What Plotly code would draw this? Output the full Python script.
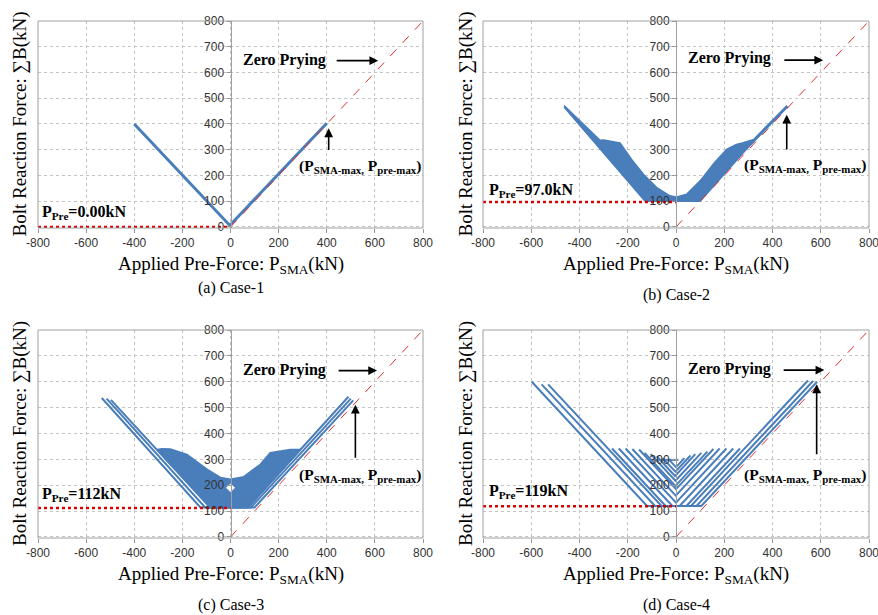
import plotly.graph_objects as go

# ---------------- data ----------------
P_PRE = [0.00, 97.0, 112, 119]
P_PRE_LABELS = ["0.00kN", "97.0kN", "112kN", "119kN"]
CAPTIONS = ["(a) Case-1", "(b) Case-2", "(c) Case-3", "(d) Case-4"]
X_TICKS = [-800, -600, -400, -200, 0, 200, 400, 600, 800]
X_TICK_TEXT = ["-800", "-600", "-400", "-200", "0", "200", "400", "600", "800"]
Y_TICKS = [0, 100, 200, 300, 400, 500, 600, 700, 800]
ZERO_PRYING_X = [0, 800]
ZERO_PRYING_Y = [0, 800]

# Case-1: single V curve
CASE1_X = [[-400, -3, 400]]
CASE1_Y = [[400, 6, 403]]

# Case-2: dense band (outline of the overlapping cycles)
CASE2_BAND_X = [-464, -315, -300, -273, -232, -184, -135, -80, -25, 0, 44, 100, 160, 210,
                250, 279, 307, 322, 458, 462, 290, 100, -128, -464]
CASE2_BAND_Y = [472, 337, 338, 334, 326, 262, 205, 153, 121, 116, 127, 179, 250, 301,
                320, 327, 337, 340, 470, 466, 300, 100, 100, 466]

# Case-3: band + three long cycles
CASE3_BAND_X = [-305, -285, -250, -181, -98, -42, 0, 55, 124, 165, 248, 292, 75, -83, -305]
CASE3_BAND_Y = [338, 341, 340, 319, 262, 230, 223, 233, 281, 326, 338, 338, 114, 114, 338]
CASE3_X = [[-535, -125, 100, 510],
           [-515, -105, 85, 500],
           [-497, -85, 72, 490]]
CASE3_Y = [[537, 114, 114, 528],
           [535, 114, 114, 535],
           [530, 114, 114, 542]]
CASE3_HOLE_X = [-18, 0, 18, 0, -18]
CASE3_HOLE_Y = [190, 205, 190, 175, 190]

# Case-4: individual cycles
CASE4_X = [[-598, -120, 105, 585],
           [-557, -87, 85, 568],
           [-530, -60, 62, 547],
           [-265, -43, 43, 265],
           [-237, -15, 15, 237],
           [-209, 0, 209],
           [-181, -1, 181],
           [-153, 0, 155],
           [-130, -2.5, 130],
           [-105, -2.5, 105],
           [-80, -4, 80],
           [-55, -2.5, 60],
           [-30, 0, 35],
           [-80, 10]]
CASE4_Y = [[600, 120, 120, 600],
           [590, 120, 120, 603],
           [590, 120, 120, 605],
           [342, 120, 120, 342],
           [342, 120, 120, 342],
           [342, 133, 342],
           [340, 160, 342],
           [338, 185, 340],
           [325, 197.5, 330],
           [320, 217.5, 325],
           [312, 236, 320],
           [305, 252.5, 315],
           [300, 270, 305],
           [298, 298]]

# annotation positions (data coordinates, per panel)
ZP_TEXT_X = [224, 220, 224, 220]
ZP_TEXT_Y = [650, 655, 646, 648]
ZP_ARROW_X0 = [435, 443, 443, 440]
ZP_ARROW_X1 = [614, 610, 609, 615]
ZP_ARROW_Y = [646, 648, 643, 645]
PMAX_TEXT_X = [537, 535, 539, 535]
PMAX_TEXT_Y = [235, 237, 238, 239]
PMAX_ARROW_X = [408, 459, 519, 583]
PMAX_ARROW_Y0 = [293, 295, 300, 314]
PMAX_ARROW_Y1 = [383, 436, 511, 590]
PPRE_TEXT_X = [-790, -784, -790, -785]
PPRE_TEXT_Y = [58, 140, 165, 175]

# ---------------- layout geometry ----------------
W, H = 878, 615
BLUE = "#4a7ebb"
RED = "#dd0000"
SERIF = "Liberation Serif"
SANS = "Liberation Sans"

# plot-area pixel boxes: (left, right, top, bottom)
BOXES = [(38, 423, 21, 228), (483, 869, 21, 228), (38, 423, 330, 538), (483, 869, 330, 538)]
XTITLE_Y = [265, 265, 575, 575]
CAPTION_Y = [288, 295, 605, 605]
YTITLE_X = [20, 466, 20, 466]

fig = go.Figure()


def px_x(p):
    return p / W


def px_y(p):
    return 1 - p / H


def add_line(xs, ys, xa, ya, width, color=BLUE, dash=None, fill=None, fillcolor=None):
    fig.add_trace(go.Scatter(x=xs, y=ys, mode="lines", fill=fill, fillcolor=fillcolor,
                             line=dict(color=color, width=width, dash=dash),
                             xaxis=xa, yaxis=ya, showlegend=False, hoverinfo="skip"))


for i in range(4):
    n = "" if i == 0 else str(i + 1)
    xa, ya = "x" + n, "y" + n
    l, r, t, b = BOXES[i]

    # blue curves
    if i == 0:
        for xs, ys in zip(CASE1_X, CASE1_Y):
            add_line(xs, ys, xa, ya, 3)
    elif i == 1:
        add_line(CASE2_BAND_X, CASE2_BAND_Y, xa, ya, 1.5, fill="toself", fillcolor=BLUE)
    elif i == 2:
        add_line(CASE3_BAND_X, CASE3_BAND_Y, xa, ya, 1.5, fill="toself", fillcolor=BLUE)
        for xs, ys in zip(CASE3_X, CASE3_Y):
            add_line(xs, ys, xa, ya, 2)
        add_line(CASE3_HOLE_X, CASE3_HOLE_Y, xa, ya, 0.5, color="white", fill="toself",
                 fillcolor="white")
    else:
        for xs, ys in zip(CASE4_X, CASE4_Y):
            add_line(xs, ys, xa, ya, 2)

    # zero-prying line and pre-tension line
    add_line(ZERO_PRYING_X, ZERO_PRYING_Y, xa, ya, 1, color="#e03030", dash="dash")
    add_line([-800, 0], [P_PRE[i], P_PRE[i]], xa, ya, 2.5, color=RED, dash="dot")

    xdom = [px_x(l), px_x(r)]
    ydom = [px_y(b), px_y(t)]
    fig.layout["xaxis" + n] = dict(
        domain=xdom, range=[-800, 800], anchor=ya, tickvals=X_TICKS, ticktext=X_TICK_TEXT,
        showgrid=True, gridcolor="#c4c4c4", griddash="dot", gridwidth=1, automargin=False,
        zeroline=False, showline=False, ticks="outside", ticklen=4, tickcolor="#999",
        ticklabeloverflow="allow",
        tickfont=dict(family=SANS, size=12, color="#333"), fixedrange=True)
    fig.layout["yaxis" + n] = dict(
        domain=ydom, range=[-4, 800], anchor="free", position=(xdom[0] + xdom[1]) / 2,
        tickvals=Y_TICKS, showgrid=True, gridcolor="#c4c4c4", griddash="dot", gridwidth=1,
        zeroline=False, showline=True, linecolor="#a0a0a0", linewidth=1, automargin=False,
        ticks="outside", ticklen=4, tickcolor="#999",
        tickfont=dict(family=SANS, size=12, color="#333"), fixedrange=True)

    # frame
    fig.add_shape(type="rect", xref=xa + " domain", yref=ya + " domain", x0=0, x1=1, y0=0, y1=1,
                  line=dict(color="#a0a0a0", width=1), layer="above")

    # axis titles and caption
    cx = px_x((l + r) / 2)
    common = dict(xref="paper", yref="paper", showarrow=False, xanchor="center", yanchor="middle")
    fig.add_annotation(text="Applied Pre-Force: P<sub>SMA</sub>(kN)", x=cx, y=px_y(XTITLE_Y[i]),
                       font=dict(family=SERIF, size=19, color="black"), **common)
    fig.add_annotation(text=CAPTIONS[i], x=cx, y=px_y(CAPTION_Y[i]),
                       font=dict(family=SERIF, size=16, color="black"), **common)
    fig.add_annotation(text="Bolt Reaction Force: \u2211B(kN)", x=px_x(YTITLE_X[i]),
                       y=px_y((t + b) / 2), textangle=-90,
                       font=dict(family=SERIF, size=19, color="black"), **common)

    # data annotations
    fig.add_annotation(text="<b>Zero Prying</b>", xref=xa, yref=ya, x=ZP_TEXT_X[i], y=ZP_TEXT_Y[i],
                       showarrow=False, xanchor="center", yanchor="middle",
                       font=dict(family=SERIF, size=16, color="black"))
    fig.add_annotation(text="", xref=xa, yref=ya, axref=xa, ayref=ya,
                       x=ZP_ARROW_X1[i], y=ZP_ARROW_Y[i], ax=ZP_ARROW_X0[i], ay=ZP_ARROW_Y[i],
                       showarrow=True, arrowhead=2, arrowsize=1.1, arrowwidth=1.6, arrowcolor="black")
    fig.add_annotation(text="<b>(P<sub>SMA-max,</sub> P<sub>pre-max</sub>)</b>", xref=xa, yref=ya,
                       x=PMAX_TEXT_X[i], y=PMAX_TEXT_Y[i], showarrow=False,
                       xanchor="center", yanchor="middle",
                       font=dict(family=SERIF, size=15.5, color="black"))
    fig.add_annotation(text="", xref=xa, yref=ya, axref=xa, ayref=ya,
                       x=PMAX_ARROW_X[i], y=PMAX_ARROW_Y1[i], ax=PMAX_ARROW_X[i], ay=PMAX_ARROW_Y0[i],
                       showarrow=True, arrowhead=2, arrowsize=1.1, arrowwidth=1.6, arrowcolor="black")
    fig.add_annotation(text="<b>P<sub>Pre</sub>=" + P_PRE_LABELS[i] + "</b>", xref=xa, yref=ya,
                       x=PPRE_TEXT_X[i], y=PPRE_TEXT_Y[i], xanchor="left", yanchor="middle",
                       showarrow=False, font=dict(family=SERIF, size=16, color="black"))

fig.update_layout(width=W, height=H, autosize=False, margin=dict(l=0, r=0, t=0, b=0, pad=0),
                  paper_bgcolor="white", plot_bgcolor="white", showlegend=False)

fig.write_html("out.html", config={"displayModeBar": False},
               post_script="document.body.style.margin='0';document.body.style.overflow='hidden';")
